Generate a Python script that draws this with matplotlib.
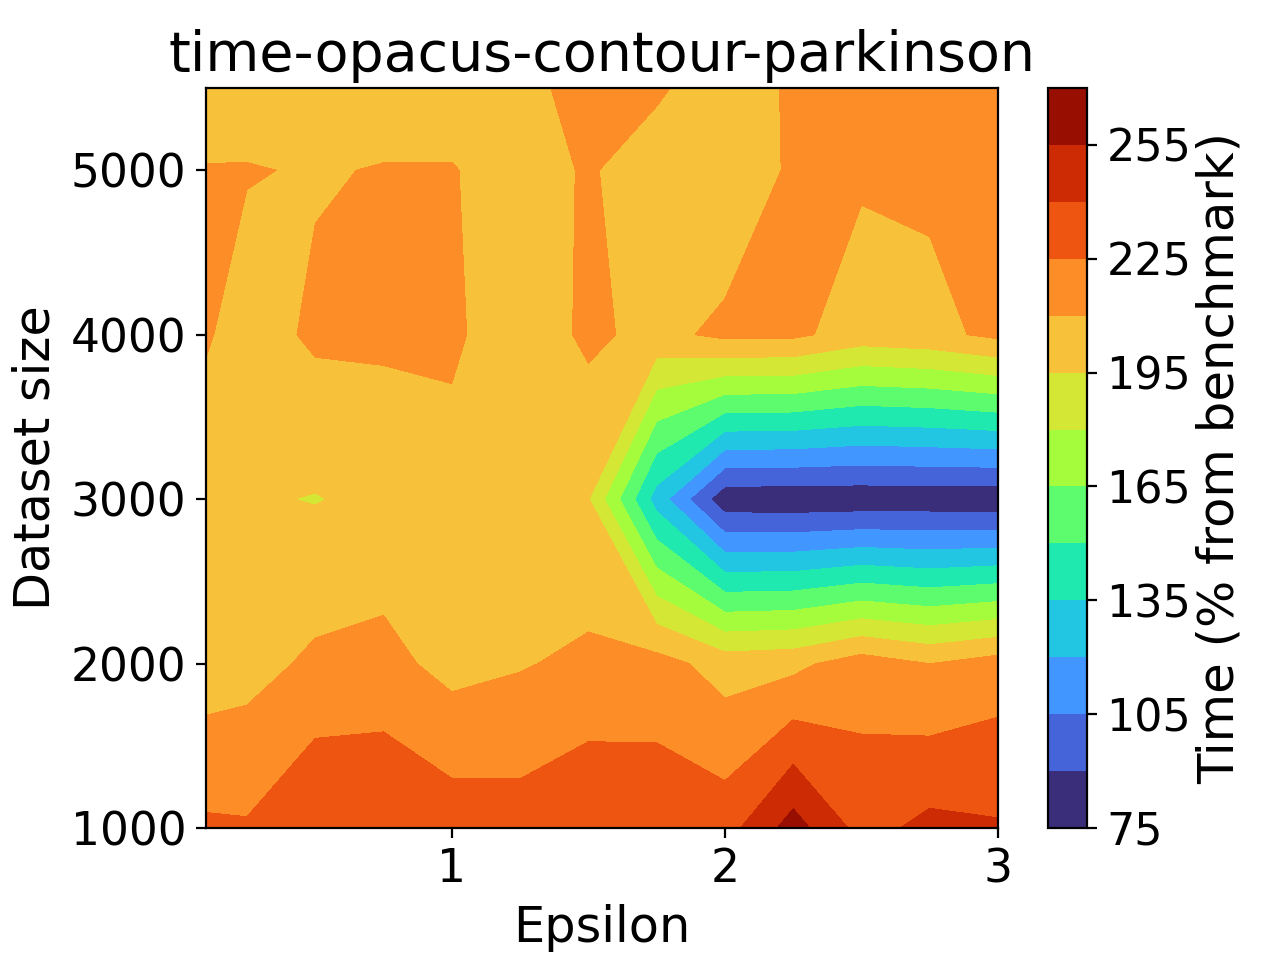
import numpy as np
import matplotlib
matplotlib.use("Agg")
import matplotlib.pyplot as plt

# grid of the measurements
epsilon = [0.1, 0.25, 0.5, 0.75, 1.0, 1.25, 1.5, 1.75, 2.0, 2.25, 2.5, 2.75, 3.0]
dataset_size = [1000, 2000, 3000, 4000, 5000, 5500]

# time (% from benchmark), one list per dataset size
time_1000 = [227.4, 226.5, 239.5, 239.5, 233.6, 231.9, 237.8, 235.0, 233.6, 261.5, 234.7, 244.1, 241.5]
time_2000 = [202.0, 204.4, 212.9, 214.7, 205.1, 208.8, 213.4, 215.7, 203.7, 206.0, 217.7, 209.9, 217.0]
time_3000 = [200.0, 196.6, 194.3, 198.7, 203.4, 200.0, 195.7, 128.5, 79.7, 79.0, 79.3, 79.8, 79.0]
time_4000 = [211.6, 203.2, 212.5, 212.6, 212.8, 200.0, 213.0, 205.5, 213.5, 213.0, 203.3, 206.0, 213.3]
time_5000 = [210.9, 210.9, 208.8, 210.8, 210.5, 205.8, 211.0, 204.75, 197.4, 212.7, 211.8, 212.7, 216.0]
time_5500 = [200.0, 201.3, 203.0, 202.0, 205.5, 205.9, 215.0, 211.5, 204.0, 211.5, 214.0, 215.0, 218.0]

levels = np.arange(75, 271, 15)
cbar_ticks = [75, 105, 135, 165, 195, 225, 255]

Z = np.array([time_1000, time_2000, time_3000, time_4000, time_5000, time_5500])
X, Y = np.meshgrid(epsilon, dataset_size)

fig = plt.figure(figsize=(6.315, 4.82), dpi=200)
ax = fig.add_axes([0.1631, 0.1411, 0.6271, 0.7676])
cax = fig.add_axes([0.8298, 0.1411, 0.0309, 0.7676])

cs = ax.contourf(X, Y, Z, levels=levels, cmap="turbo")
ax.set_title("time-opacus-contour-parkinson", fontsize=20.0)
ax.set_xlabel("Epsilon", fontsize=17.8)
ax.set_ylabel("Dataset size", fontsize=17.8)
ax.set_xticks([1, 2, 3])
ax.set_yticks([1000, 2000, 3000, 4000, 5000])
ax.tick_params(labelsize=16.4)

cb = fig.colorbar(cs, cax=cax, ticks=cbar_ticks)
cb.set_label("Time (% from benchmark)", fontsize=17.9, labelpad=1.5)
cb.ax.tick_params(labelsize=16.0)

fig.savefig("out.png", dpi=200)
